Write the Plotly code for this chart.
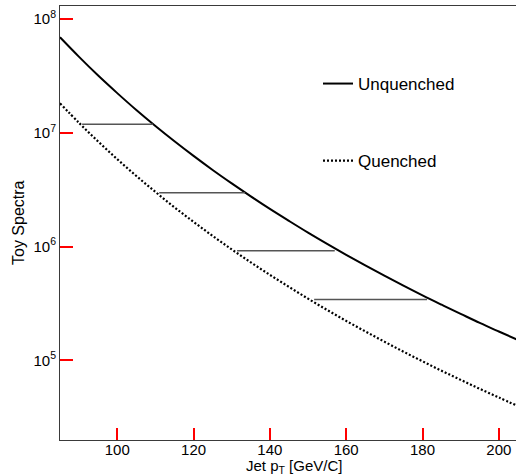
import plotly.graph_objects as go
import math

# Jet pT grid (GeV/c) and spectra
pt = [85, 90, 95, 100, 105, 110, 115, 120, 125, 130, 135, 140, 145, 150,
      155, 160, 165, 170, 175, 180, 185, 190, 195, 200, 205]
unquenched = [6.90e7, 4.64e7, 3.18e7, 2.23e7, 1.585e7, 1.147e7, 8.42e6, 6.26e6,
              4.71e6, 3.59e6, 2.76e6, 2.14e6, 1.68e6, 1.325e6, 1.055e6, 8.45e5,
              6.82e5, 5.54e5, 4.53e5, 3.72e5, 3.08e5, 2.56e5, 2.13e5, 1.79e5, 1.51e5]
quenched = [1.815e7, 1.219e7, 8.37e6, 5.86e6, 4.17e6, 3.02e6, 2.21e6, 1.648e6,
            1.239e6, 9.44e5, 7.26e5, 5.64e5, 4.42e5, 3.48e5, 2.77e5, 2.22e5,
            1.795e5, 1.459e5, 1.191e5, 9.8e4, 8.09e4, 6.73e4, 5.61e4, 4.71e4, 3.96e4]

# Energy-loss arrows: level, start (unquenched) pT, end (quenched) pT
arrow_y = [1.19e7, 2.976e6, 9.19e5, 3.42e5]
arrow_from = [109.4, 133.5, 157.0, 181.2]
arrow_to = [90.8, 111.0, 131.4, 151.6]

# Axis ranges and ticks
x_range = [85, 204.5]
y_range_log = [4.2995, 8.114]
x_major = [100, 120, 140, 160, 180, 200]
y_major = [1e5, 1e6, 1e7, 1e8]
y_major_text = ["10<sup>5</sup>", "10<sup>6</sup>", "10<sup>7</sup>", "10<sup>8</sup>"]

FONT = "Liberation Sans, Arial, Helvetica, sans-serif"
AXC = "#3a3a3a"

fig = go.Figure()
fig.add_trace(go.Scatter(x=pt, y=unquenched, mode="lines", name="Unquenched",
                         line=dict(color="black", width=2, shape="spline"),
                         legendgroup="u"))
fig.add_trace(go.Scatter(x=pt, y=quenched, mode="lines", name="Quenched",
                         line=dict(color="black", width=2.2, dash="2px,2px", shape="spline"),
                         legendgroup="q"))

# arrows as plain line traces (test)
for yv, x0, x1 in zip(arrow_y, arrow_from, arrow_to):
    fig.add_trace(go.Scatter(x=[x0, x1], y=[yv, yv], mode="lines", showlegend=False,
                             hoverinfo="skip", line=dict(color="#555555", width=1.5)))

annotations = []
annotations.append(dict(text="Jet p<sub>T</sub> [GeV/C]", xref="paper", yref="paper",
                        x=(294 - 60) / 456, y=(440 - 466) / 434, showarrow=False,
                        xanchor="center", yanchor="middle",
                        font=dict(family=FONT, size=15, color="black")))
annotations.append(dict(text="Toy Spectra", xref="paper", yref="paper",
                        x=(18 - 60) / 456, y=0.5, showarrow=False, textangle=-90,
                        xanchor="center", yanchor="middle",
                        font=dict(family=FONT, size=16, color="black")))

fig.update_layout(
    width=516, height=476,
    margin=dict(l=60, r=0, t=6, b=36),
    paper_bgcolor="white", plot_bgcolor="white",
    font=dict(family=FONT, size=15, color="black"),
    showlegend=True,
    legend=dict(x=(318 - 60) / 456, y=(440 - 66) / 434, xanchor="left", yanchor="top",
                bgcolor="rgba(0,0,0,0)", borderwidth=0, tracegroupgap=52,
                font=dict(family=FONT, size=17, color="black")),
    annotations=annotations,
    xaxis=dict(range=x_range, showgrid=False, zeroline=False,
               showline=True, linecolor=AXC, linewidth=1, mirror=True,
               ticks="inside", ticklen=12, tickcolor="red", tickwidth=2,
               tickmode="array", tickvals=x_major, ticklabelstandoff=-4,
               tickfont=dict(family=FONT, size=15, color="black")),
    yaxis=dict(type="log", range=y_range_log, showgrid=False, zeroline=False,
               showline=True, linecolor=AXC, linewidth=1,
               ticks="inside", ticklen=13, tickcolor="red", tickwidth=2,
               tickmode="array", tickvals=y_major, ticktext=y_major_text,
               tickfont=dict(family=FONT, size=15, color="black")),
)

fig.write_html("out.html")
